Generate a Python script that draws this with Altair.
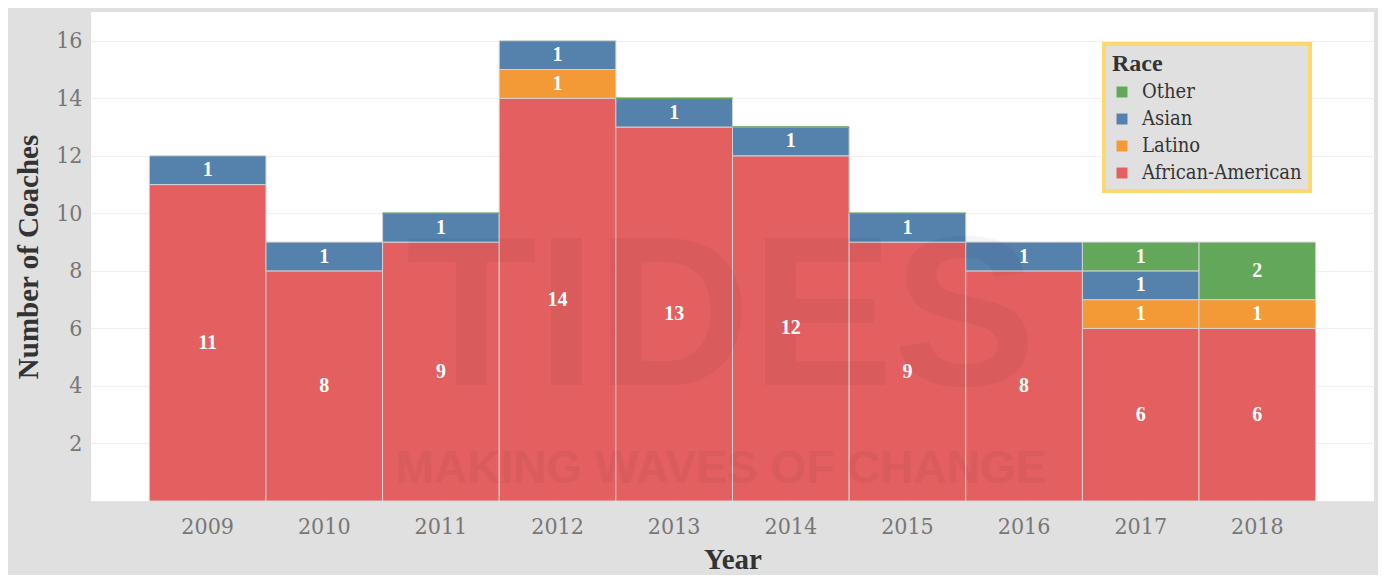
import altair as alt
import pandas as pd

years = [2009, 2010, 2011, 2012, 2013, 2014, 2015, 2016, 2017, 2018]
african_american = [11, 8, 9, 14, 13, 12, 9, 8, 6, 6]
latino = [None, None, None, 1, None, None, None, None, 1, 1]
asian = [1, 1, 1, 1, 1, 1, 1, 1, 1, None]
other = [None, None, 0, None, 0, 0, 0, None, 1, 2]

races = ["Other", "Asian", "Latino", "African-American"]
colors = ["#63a85a", "#5581ad", "#f39936", "#e35f60"]
stack_order = {"African-American": 0, "Latino": 1, "Asian": 2, "Other": 3}

rows = []
for i, yr in enumerate(years):
    for race, series in [("African-American", african_american), ("Latino", latino),
                         ("Asian", asian), ("Other", other)]:
        v = series[i]
        if v is not None:
            rows.append({"year": str(yr), "race": race, "count": v, "order": stack_order[race]})
df = pd.DataFrame(rows)

SERIF = "Liberation Serif, Times New Roman, serif"
SERIF_REG = "DejaVu Serif Condensed, DejaVu Serif, serif"

base = alt.Chart(df).transform_stack(
    stack="count", groupby=["year"], as_=["y0", "y1"],
    sort=[alt.SortField("order", order="ascending")]
)

x_enc = alt.X("year:N", title="Year",
              scale=alt.Scale(paddingInner=0, paddingOuter=0.5),
              axis=alt.Axis(labelAngle=0, labelFontSize=23, labelColor="#777777", labelFont=SERIF_REG,
                            labelPadding=9, tickSize=5, tickColor="#e4e4e4", domainColor="#e4e4e4",
                            titleFontSize=29, titleFont=SERIF, titleFontWeight="bold",
                            titleColor="#333333", titlePadding=7, grid=False))
y_axis = alt.Axis(values=[2, 4, 6, 8, 10, 12, 14, 16], labelFontSize=23, labelColor="#777777",
                  labelFont=SERIF_REG, labelPadding=5, tickSize=4, tickColor="#e4e4e4",
                  domain=False, gridColor="#f0f0f0", titleFontSize=29, titleFont=SERIF,
                  titleFontWeight="bold", titleColor="#333333", titlePadding=12)
y_scale = alt.Scale(domain=[0, 17], nice=False)

bars = base.mark_bar(stroke="#d2d2d2", strokeWidth=1).encode(
    x=x_enc,
    y=alt.Y("y1:Q", title="Number of Coaches", scale=y_scale, axis=y_axis),
    y2="y0:Q",
    color=alt.Color("race:N", scale=alt.Scale(domain=races, range=colors),
                    legend=alt.Legend(title="Race", orient="none", legendX=1013, legendY=32,
                                      titleFont=SERIF, titleFontSize=24, titleFontWeight="bold",
                                      titleColor="#333333", labelFont=SERIF_REG, labelFontSize=20,
                                      labelColor="#333333", labelLimit=0, symbolType="square",
                                      symbolSize=120, symbolStrokeWidth=0, rowPadding=7,
                                      labelOffset=10, fillColor="#e0e0e0", strokeColor="#fdd870",
                                      padding=8, titlePadding=6)),
)

zero_bars = base.transform_filter("datum.count == 0").mark_bar(fillOpacity=0, strokeWidth=1.5).encode(
    x=x_enc,
    y=alt.Y("y1:Q", title="Number of Coaches", scale=y_scale, axis=y_axis),
    y2="y0:Q",
    stroke=alt.Stroke("race:N", scale=alt.Scale(domain=races, range=colors), legend=None),
)

labels = base.transform_filter("datum.count > 0").transform_calculate(
    mid="(datum.y0 + datum.y1) / 2"
).mark_text(font=SERIF, fontWeight="bold", fontSize=20, color="white", baseline="middle").encode(
    x=x_enc,
    y=alt.Y("mid:Q", title="Number of Coaches", scale=y_scale, axis=y_axis),
    text="count:Q",
)

wm_df = pd.DataFrame({"t": ["TIDES"], "s": ["MAKING WAVES OF CHANGE"]})
wm_big = alt.Chart(wm_df).mark_text(font="Liberation Sans", fontWeight="bold", fontSize=214,
                                    color="#000000", opacity=0.035, baseline="alphabetic",
                                    align="center").encode(
    x=alt.value(630), y=alt.value(373), text="t:N")
wm_small = alt.Chart(wm_df).mark_text(font="Liberation Sans", fontWeight="bold", fontSize=46,
                                      color="#000000", opacity=0.035, baseline="alphabetic",
                                      align="center").encode(
    x=alt.value(630), y=alt.value(471), text="s:N")

chart = alt.layer(bars, zero_bars, wm_big, wm_small, labels).resolve_scale(
    color="independent", stroke="independent"
).properties(
    width=1283, height=489,
    background="#e0e0e0",
    autosize=alt.AutoSizeParams(type="none"),
    padding={"left": 83, "top": 4, "right": 4, "bottom": 74},
).configure_view(fill="white", stroke=None).configure_legend(strokeWidth=4)

chart.save("out.html", embed_options={"renderer": "svg", "actions": False})
